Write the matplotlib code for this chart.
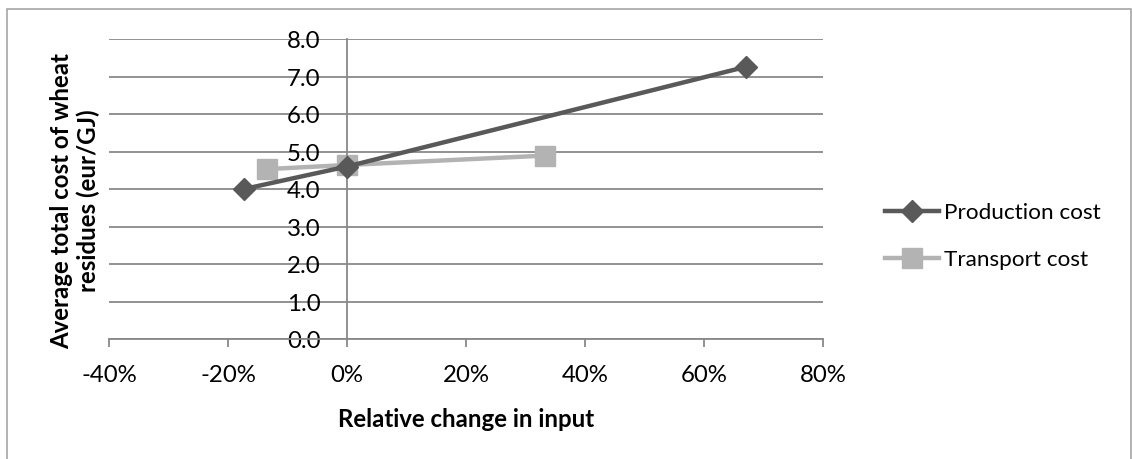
#!/usr/bin/env python3
import matplotlib
matplotlib.use("Agg")
import matplotlib.pyplot as plt
from matplotlib.patches import Rectangle
from matplotlib.ticker import FuncFormatter, MultipleLocator

plt.rcParams["font.family"] = ["Lato", "DejaVu Sans"]

# relative change in input (fraction) and average cost (eur/GJ)
PROD_X = [-0.173, 0.0, 0.671]
PROD_Y = [4.0, 4.6, 7.26]
TRANS_X = [-0.135, 0.0, 0.332]
TRANS_Y = [4.53, 4.64, 4.89]

PROD_COLOR = "#595959"
TRANS_COLOR = "#b3b3b3"
GRID_COLOR = "#898989"
FS = 17.3
LEG_FS = 16.2

W, H, DPI = 1132, 460, 100

fig = plt.figure(figsize=(W / DPI, H / DPI), dpi=DPI)
ax = fig.add_axes([109 / W, 1 - 340 / H, (823 - 109) / W, 300 / H])

ax.plot(PROD_X, PROD_Y, color=PROD_COLOR, lw=3.2, marker="D", ms=11,
        label="Production cost", zorder=3)
ax.plot(TRANS_X, TRANS_Y, color=TRANS_COLOR, lw=3.2, marker="s", ms=14,
        label="Transport cost", zorder=2)

ax.set_xlim(-0.4, 0.8)
ax.set_ylim(0, 8)
ax.xaxis.set_major_locator(MultipleLocator(0.2))
ax.yaxis.set_major_locator(MultipleLocator(1))
ax.xaxis.set_major_formatter(FuncFormatter(lambda v, p: f"{v * 100:.0f}%"))
ax.yaxis.set_major_formatter(FuncFormatter(lambda v, p: f"{v:.1f}"))

ax.grid(axis="y", color=GRID_COLOR, lw=1.3)
ax.set_axisbelow(True)
for side in ("top", "right"):
    ax.spines[side].set_visible(False)
ax.spines["left"].set_position(("data", 0))
ax.spines["left"].set_color(GRID_COLOR)
ax.spines["left"].set_linewidth(1.3)
ax.spines["bottom"].set_color(GRID_COLOR)
ax.spines["bottom"].set_linewidth(1.3)

ax.tick_params(axis="x", direction="out", length=6, width=1.3, color=GRID_COLOR,
               labelsize=FS, pad=12)
ax.tick_params(axis="y", length=0, labelsize=FS, pad=19)

ax.set_xlabel("Relative change in input", fontsize=FS, fontweight="bold", labelpad=16)
fig.text(75 / W, 1 - 201 / H, "Average total cost of wheat\nresidues (eur/GJ)",
         rotation=90, ha="center", va="center", fontsize=FS, fontweight="bold",
         linespacing=1.15)

leg = ax.legend(loc="center left", bbox_to_anchor=(885 / W, 1 - 237 / H),
                bbox_transform=fig.transFigure, frameon=False, fontsize=LEG_FS,
                handlelength=2.4, handletextpad=0.2, labelspacing=1.2,
                borderpad=0, borderaxespad=0)

fig.add_artist(Rectangle((7 / W, -0.01), (1131 - 7) / W, 1 - 10 / H + 0.01,
                         transform=fig.transFigure, fill=False,
                         edgecolor="#a6a6a6", lw=1.2))

fig.savefig("out.png", dpi=DPI, facecolor="white")
